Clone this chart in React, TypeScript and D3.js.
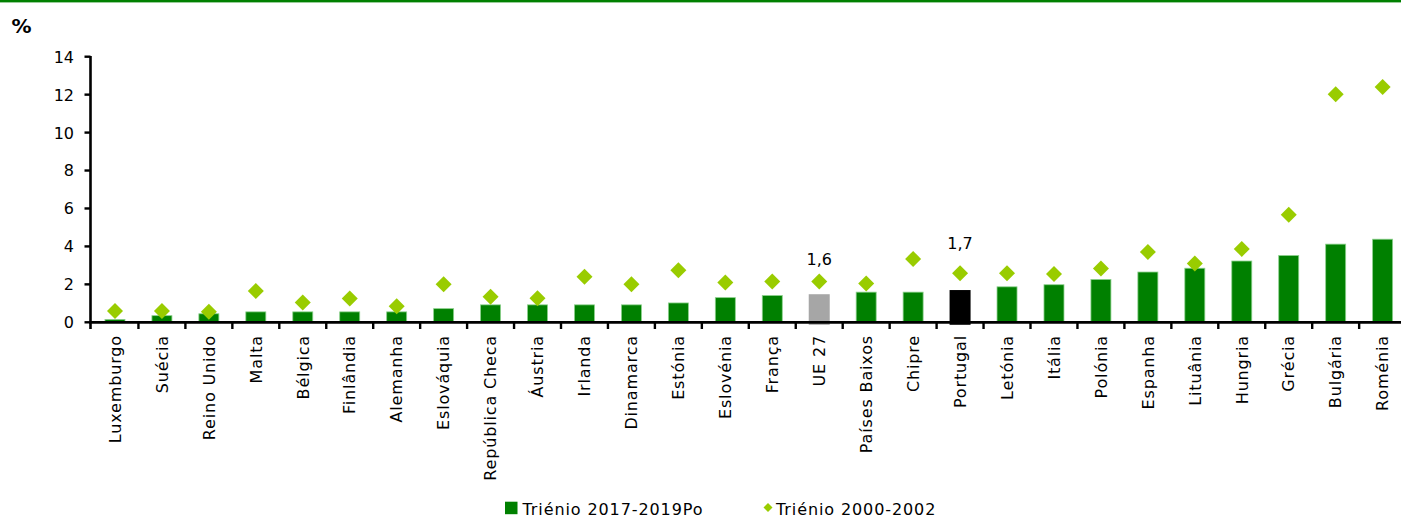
import React from "react";
import * as d3 from "d3";

const categories = [
  "Luxemburgo", "Suécia", "Reino Unido", "Malta", "Bélgica", "Finlândia", "Alemanha",
  "Eslováquia", "República Checa", "Áustria", "Irlanda", "Dinamarca", "Estónia", "Eslovénia",
  "França", "UE 27", "Países Baixos", "Chipre", "Portugal", "Letónia", "Itália", "Polónia",
  "Espanha", "Lituânia", "Hungria", "Grécia", "Bulgária", "Roménia",
];
const series2017 = [
  0.15, 0.35, 0.45, 0.55, 0.55, 0.55, 0.55, 0.72, 0.92, 0.92, 0.92, 0.92, 1.02, 1.3,
  1.41, 1.48, 1.59, 1.59, 1.7, 1.87, 1.98, 2.26, 2.65, 2.85, 3.23, 3.52, 4.12, 4.38,
];
const series2000 = [
  0.6, 0.6, 0.55, 1.65, 1.05, 1.25, 0.85, 2.0, 1.35, 1.27, 2.4, 2.0, 2.75, 2.1,
  2.15, 2.15, 2.05, 3.34, 2.58, 2.58, 2.55, 2.83, 3.71, 3.1, 3.87, 5.67, 12.02, 12.4,
];
const yTicks = [0, 2, 4, 6, 8, 10, 12, 14];
const dataLabels = [
  { category: "UE 27", text: "1,6", offset: 17 },
  { category: "Portugal", text: "1,7", offset: 24 },
];
const legendLabels = ["Triénio 2017-2019Po", "Triénio 2000-2002"];

const W = 1401;
const H = 518;
const FONT = "'DejaVu Sans', Verdana, sans-serif";
const GREEN = "#008000";
const LIME = "#99CC00";

export default function App() {
  const x = d3.scaleBand<string>().domain(categories).range([91.5, 91.5 + 28 * 46.95]).paddingInner(0).paddingOuter(0);
  const y = d3.scaleLinear().domain([0, 14]).range([322.3, 56.7]);
  const barW = 20;
  const step = x.step();

  const barColor = (c: string) => (c === "UE 27" ? "#A6A6A6" : c === "Portugal" ? "#000000" : GREEN);
  const diamond = (cx: number, cy: number, r: number) =>
    `M${cx},${cy - r}L${cx + r},${cy}L${cx},${cy + r}L${cx - r},${cy}Z`;

  return (
    <svg width={W} height={H} style={{ position: "absolute", left: 0, top: 0 }} fontFamily={FONT}>
      <rect x={0} y={0} width={W} height={H} fill="#fff" />
      <rect x={0} y={0} width={W} height={2.4} fill={GREEN} />
      <text x={11.5} y={32.5} fontSize={20} fontWeight="bold" fill="#000">%</text>

      {/* bars */}
      {categories.map((c, i) => {
        const cx = (x(c) as number) + step / 2;
        const special = c === "UE 27" || c === "Portugal";
        const top = y(series2017[i]);
        const bottom = special ? y(0) + 2.5 : y(0);
        return (
          <rect
            key={"b" + c}
            x={cx - (special ? 10.5 : barW / 2)}
            y={top}
            width={special ? 21 : barW}
            height={bottom - top}
            fill={barColor(c)}
            stroke={special ? "none" : "#8cd08c"}
            strokeWidth={0.8}
          />
        );
      })}

      {/* axes */}
      <line x1={90.5} x2={90.5} y1={56} y2={329} stroke="#000" strokeWidth={2.6} />
      <line x1={89} x2={W} y1={322.3} y2={322.3} stroke="#000" strokeWidth={2.8} />
      {yTicks.map((t) => (
        <g key={"yt" + t}>
          <line x1={84.5} x2={90.5} y1={y(t)} y2={y(t)} stroke="#000" strokeWidth={2.4} />
          <text x={74} y={y(t)} dy="0.37em" textAnchor="end" fontSize={16} fill="#000">
            {t}
          </text>
        </g>
      ))}
      {categories.map((c, i) =>
        i === 0 ? null : (
          <line key={"xt" + c} x1={x(c) as number} x2={x(c) as number} y1={322} y2={329} stroke="#000" strokeWidth={2.4} />
        )
      )}
      {categories.map((c) => {
        const cx = (x(c) as number) + step / 2;
        return (
          <text
            key={"xl" + c}
            transform={`translate(${cx},335) rotate(-90)`}
            dy="0.36em"
            textAnchor="end"
            fontSize={16}
            letterSpacing={0.85}
            fill="#000"
          >
            {c}
          </text>
        );
      })}

      {/* diamonds */}
      {categories.map((c, i) => {
        const cx = (x(c) as number) + step / 2;
        return <path key={"d" + c} d={diamond(cx, y(series2000[i]), 8)} fill={LIME} />;
      })}

      {/* data labels */}
      {dataLabels.map((l) => {
        const i = categories.indexOf(l.category);
        const cx = (x(l.category) as number) + step / 2;
        return (
          <text key={"dl" + l.category} x={cx} y={y(series2000[i]) - l.offset} textAnchor="middle" fontSize={16} fill="#000">
            {l.text}
          </text>
        );
      })}

      {/* legend */}
      <rect x={505} y={501.7} width={12.5} height={12.5} fill={GREEN} />
      <text x={522.5} y={514.5} fontSize={16} letterSpacing={0.9} fill="#000">{legendLabels[0]}</text>
      <path d={diamond(768, 507.5, 4.5)} fill={LIME} />
      <text x={776} y={514.5} fontSize={16} letterSpacing={0.9} fill="#000">{legendLabels[1]}</text>
    </svg>
  );
}
